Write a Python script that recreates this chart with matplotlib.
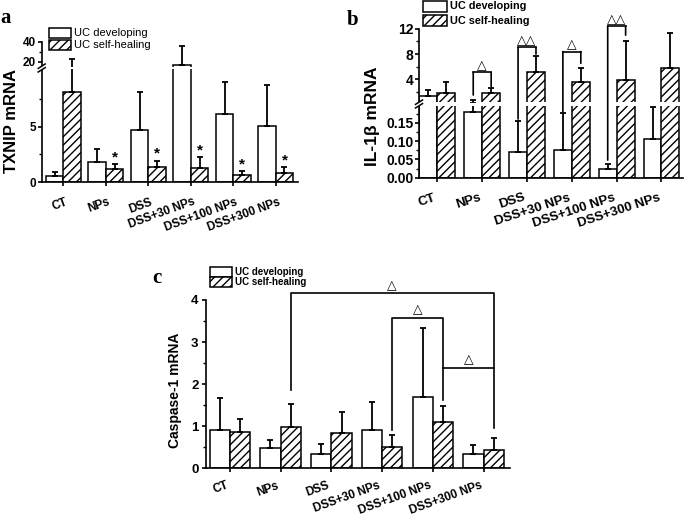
import numpy as np
import matplotlib
matplotlib.use("Agg")
import matplotlib.pyplot as plt
from matplotlib.patches import Rectangle, ConnectionPatch
from matplotlib.lines import Line2D
from matplotlib.transforms import ScaledTranslation

plt.rcParams['font.family'] = ['Liberation Sans', 'DejaVu Sans']
plt.rcParams['hatch.linewidth'] = 1.0

groups = ["CT", "NPs", "DSS", "DSS+30 NPs", "DSS+100 NPs", "DSS+300 NPs"]

# panel a: TXNIP mRNA
txnip_dev = [0.55, 1.85, 4.73, 16.7, 6.15, 5.09]
txnip_dev_err = [0.39, 1.12, 3.42, 19.0, 2.91, 3.71]
txnip_heal = [8.15, 1.15, 1.39, 1.25, 0.64, 0.79]
txnip_heal_err = [14.55, 0.45, 0.55, 1.0, 0.36, 0.55]
txnip_star = [False, True, True, True, True, True]

# panel b: IL-1beta mRNA
il1b_dev = [1.35, 0.18, 0.071, 0.0755, 0.0237, 0.105]
il1b_dev_err = [0.95, 0.52, 0.084, 0.10, 0.013, 0.088]
il1b_heal = [1.78, 1.87, 5.1, 3.62, 3.9, 5.84]
il1b_heal_err = [1.72, 0.70, 2.65, 2.13, 6.2, 5.56]
# brackets: group, top, left leg end, right leg end, mark
il1b_br_group = [1, 2, 3, 4]
il1b_br_top = [5.1, 9.05, 8.4, 12.45]
il1b_br_left = [1.5, 0.16, 0.18, 0.048]
il1b_br_right = [2.83, 8.0, 6.54, 11.0]
il1b_br_mark = ["△", "△△", "△", "△△"]

# panel c: Caspase-1 mRNA
casp_dev = [0.91, 0.49, 0.34, 0.91, 1.70, 0.34]
casp_dev_err = [0.75, 0.18, 0.23, 0.66, 1.63, 0.21]
casp_heal = [0.855, 0.99, 0.83, 0.51, 1.09, 0.435]
casp_heal_err = [0.305, 0.54, 0.50, 0.27, 0.39, 0.295]

W, H = 685, 522
fig = plt.figure(figsize=(W / 100, H / 100), dpi=100)


def px_axes(x0, y0, x1, y1):
    return fig.add_axes([x0 / W, 1 - y1 / H, (x1 - x0) / W, (y1 - y0) / H])


def fx(x):
    return x / W


def fy(y):
    return 1 - y / H


def draw_bars(ax, dev, dev_err, heal, heal_err, w, ymin=None):
    x = np.arange(len(groups))
    ax.bar(x - w / 2, dev, w, color='white', edgecolor='black', linewidth=1.1)
    ax.bar(x + w / 2, heal, w, color='white', edgecolor='black', hatch='////', linewidth=1.1)
    for xs, v, e in ((x - w / 2, dev, dev_err), (x + w / 2, heal, heal_err)):
        v, e = np.asarray(v), np.asarray(e)
        keep = np.ones(len(v), bool) if ymin is None else (v + e) > ymin
        ax.errorbar(xs[keep], v[keep], yerr=[np.zeros(keep.sum()), e[keep]], fmt='none',
                    ecolor='black', elinewidth=1.3, capsize=2, capthick=1.3)


def style_axis(ax, bottom=True, fs=9, pad=1.5):
    for s in ['top', 'right']:
        ax.spines[s].set_visible(False)
    for s in ax.spines.values():
        s.set_linewidth(1.2)
    if not bottom:
        ax.spines['bottom'].set_visible(False)
        ax.set_xticks([])
    ax.tick_params(axis='y', direction='out', length=3, width=1.2, labelsize=fs, pad=pad)
    ax.tick_params(axis='y', which='minor', direction='out', length=2, width=1.0)
    for lab in ax.get_yticklabels():
        lab.set_fontweight('bold')


def xlabels(ax, fs, rot, pad, dx=0):
    ax.set_xticks(np.arange(len(groups)))
    ax.set_xticklabels(groups, rotation=rot, ha='right', fontsize=fs, fontweight='bold')
    ax.tick_params(axis='x', direction='out', length=3, width=1.2, pad=pad)
    if dx:
        for lab in ax.get_xticklabels():
            lab.set_transform(lab.get_transform() + ScaledTranslation(dx / 100, 0, fig.dpi_scale_trans))


def legend_box(x, ys, w, h, fs, weight):
    hatches = [None, '////']
    texts = ["UC developing", "UC self-healing"]
    for y, ht, t in zip(ys, hatches, texts):
        fig.add_artist(Rectangle((fx(x), fy(y + h)), w / W, h / H, transform=fig.transFigure,
                                 facecolor='white', edgecolor='black', hatch=ht, linewidth=1.1))
        fig.text(fx(x + w + 3), fy(y + h / 2), t, fontsize=fs, fontweight=weight, va='center', ha='left')


def break_mark(x, y):
    fig.add_artist(Rectangle((fx(x - 4), fy(y + 2)), 8 / W, 4 / H, transform=fig.transFigure,
                             facecolor='white', edgecolor='none'))
    for dy in (-1.8, 1.8):
        fig.add_artist(Line2D([fx(x - 3.5), fx(x + 3.5)], [fy(y + dy + 2.2), fy(y + dy - 2.2)],
                              transform=fig.transFigure, color='black', lw=1.1))


# ---------------- panel a ----------------
wa = 0.41
a_lo = px_axes(41.7, 69, 298.3, 182)
a_hi = px_axes(41.7, 41.7, 298.3, 67)
a_lo.set_ylim(0, 10.27)
a_hi.set_ylim(14.7, 40)
draw_bars(a_lo, txnip_dev, txnip_dev_err, txnip_heal, txnip_heal_err, wa)
draw_bars(a_hi, txnip_dev, txnip_dev_err, txnip_heal, txnip_heal_err, wa, ymin=14.7)
for ax in (a_lo, a_hi):
    ax.set_xlim(-0.51, 5.53)
a_lo.set_ylim(0, 10.27)
a_hi.set_ylim(14.7, 40)
a_lo.set_yticks([0, 5])
a_lo.set_yticks([2.5, 7.5], minor=True)
a_hi.set_yticks([20, 40])
a_hi.set_yticks([30], minor=True)
style_axis(a_lo, True, 8.5, 1)
style_axis(a_hi, False, 8.5, 1)
xlabels(a_lo, 8.5, 20, 7, dx=6)
xa = np.arange(len(groups))
for i, s in enumerate(txnip_star):
    if s:
        a_lo.annotate('*', (xa[i] + wa / 2, txnip_heal[i] + txnip_heal_err[i]), xytext=(0, 0),
                      textcoords='offset points', ha='center', va='bottom', fontsize=11, fontweight='bold')
break_mark(41.7, 68)
legend_box(49.3, [28.3, 39.8], 21.7, 9.7, 8, 'normal')
fig.text(fx(11.5), fy(120.5), "TXNIP mRNA", rotation=90, fontsize=12, fontweight='bold', ha='center', va='center')
fig.text(fx(0), fy(23), "a", family='Liberation Serif', fontsize=15, fontweight='bold', va='baseline')

# ---------------- panel b ----------------
wb = 0.4
b_lo = px_axes(419, 106, 683, 177.7)
b_hi = px_axes(419, 28.9, 683, 101.7)
draw_bars(b_lo, il1b_dev, il1b_dev_err, il1b_heal, il1b_heal_err, wb)
draw_bars(b_hi, il1b_dev, il1b_dev_err, il1b_heal, il1b_heal_err, wb, ymin=0.44)
for ax in (b_lo, b_hi):
    ax.set_xlim(-0.41, 5.48)
b_lo.set_ylim(0, 0.1955)
b_hi.set_ylim(0.44, 12)
b_lo.set_yticks([0, 0.05, 0.10, 0.15])
b_lo.set_yticklabels(["0.00", "0.05", "0.10", "0.15"])
b_lo.set_yticks([0.025, 0.075, 0.125, 0.175], minor=True)
b_hi.set_yticks([4, 8, 12])
b_hi.set_yticks([2, 6, 10], minor=True)
style_axis(b_lo, True, 10, 1)
style_axis(b_hi, False, 10, 1)
xlabels(b_lo, 9.5, 18, 7)


def pick(v):
    # which half of the broken axis holds this value
    return (b_hi, v) if v >= b_hi.get_ylim()[0] else (b_lo, v)


for g, top, yl, yr, mk in zip(il1b_br_group, il1b_br_top, il1b_br_left, il1b_br_right, il1b_br_mark):
    x1, x2 = g - wb / 2, g + wb / 2
    b_hi.plot([x1, x2], [top, top], color='black', lw=1.2, clip_on=False)
    for xx, yy in ((x1, yl), (x2, yr)):
        axb, vb = pick(yy)
        fig.add_artist(ConnectionPatch(xyA=(xx, top), coordsA=b_hi.transData, xyB=(xx, vb),
                                       coordsB=axb.transData, color='black', lw=1.2))
    b_hi.annotate(mk, (g, top), xytext=(0, 0), textcoords='offset points', ha='center', va='bottom',
                  fontsize=9, family='DejaVu Sans', annotation_clip=False)
break_mark(419, 104)
legend_box(423, [0.5, 15], 23.5, 11, 7.8, 'bold')
fig.text(fx(372), fy(116), "IL-1β mRNA", rotation=90, fontsize=12.5, fontweight='bold', ha='center', va='center')
fig.text(fx(347), fy(25), "b", family='Liberation Serif', fontsize=15, fontweight='bold', va='baseline')

# ---------------- panel c ----------------
wc = 0.4
c_ax = px_axes(205.5, 300, 510, 468.3)
draw_bars(c_ax, casp_dev, casp_dev_err, casp_heal, casp_heal_err, wc)
c_ax.set_xlim(-0.48, 5.52)
c_ax.set_ylim(0, 4)
c_ax.set_yticks([0, 1, 2, 3, 4])
c_ax.set_yticks([0.5, 1.5, 2.5, 3.5], minor=True)
style_axis(c_ax, True, 9.5, 2)
xlabels(c_ax, 8.5, 20, 5)


def c_bracket(x1, x2, top, yl, yr):
    xs, ys = [x1, x1, x2, x2], [yl, top, top, yr]
    c_ax.plot(xs, ys, color='black', lw=1.2, clip_on=False)
    c_ax.annotate("△", ((x1 + x2) / 2, top), xytext=(0, 1), textcoords='offset points',
                  ha='center', va='bottom', fontsize=9, family='DejaVu Sans', annotation_clip=False)


c_bracket(1 + wc / 2, 5 + wc / 2, 4.16, 1.86, 0.95)
c_bracket(3 + wc / 2, 4 + wc / 2, 3.57, 0.91, 1.62)
c_ax.plot([4 + wc / 2, 5 + wc / 2], [2.39, 2.39], color='black', lw=1.2)
c_ax.annotate("△", (4.5 + wc / 2, 2.39), xytext=(0, 1), textcoords='offset points',
              ha='center', va='bottom', fontsize=9, family='DejaVu Sans')
legend_box(210, [266.7, 276.7], 21.7, 10, 7, 'bold')
fig.text(fx(174.5), fy(390), "Caspase-1 mRNA", rotation=90, fontsize=10, fontweight='bold', ha='center', va='center')
fig.text(fx(152), fy(283), "c", family='Liberation Serif', fontsize=15, fontweight='bold', va='baseline')

fig.savefig("out.png", dpi=100)
